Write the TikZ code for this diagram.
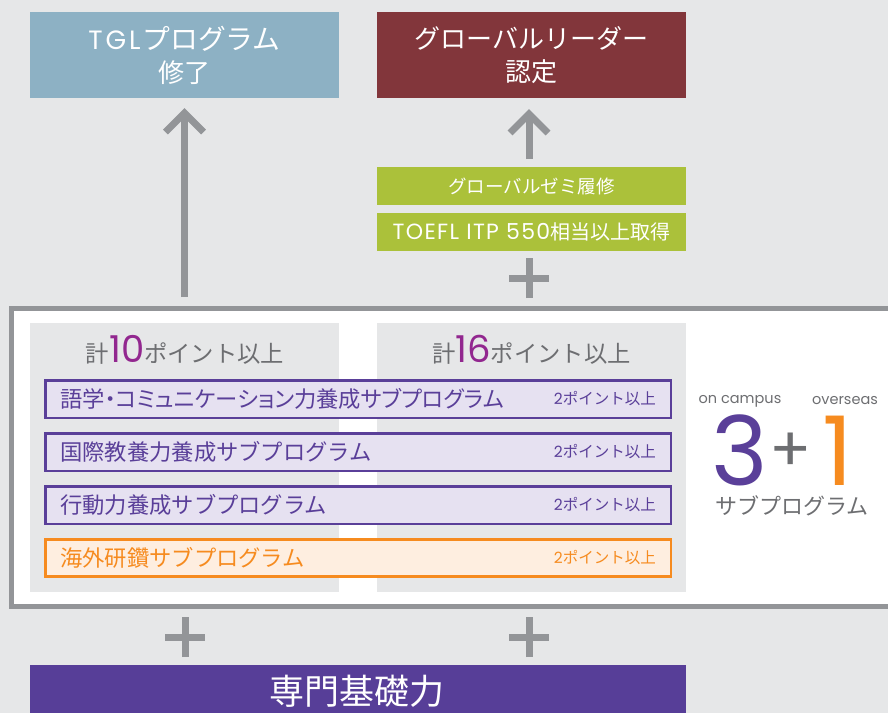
\documentclass[tikz,border=0pt]{standalone}
\usepackage{fontspec}
\setmainfont{Noto Sans CJK JP}
\newfontfamily\lat{Poppins}
\definecolor{bggray}{HTML}{E6E7E8}
\definecolor{tglblue}{HTML}{8DB1C4}
\definecolor{leadred}{HTML}{82363B}
\definecolor{lgreen}{HTML}{ABC13A}
\definecolor{framegray}{HTML}{939598}
\definecolor{txtgray}{HTML}{6D6E71}
\definecolor{magen}{HTML}{92278F}
\definecolor{purp}{HTML}{5A3F99}
\definecolor{purpfill}{HTML}{E6E1F1}
\definecolor{orng}{HTML}{F68B1F}
\definecolor{orngfill}{HTML}{FEEEE0}
\definecolor{basepurp}{HTML}{573E98}
\begin{document}
\begin{tikzpicture}[x=1pt,y=-1pt,
  topbox/.style={draw=none, inner sep=0pt, minimum width=309pt, minimum height=86pt, text=white, align=center,
    font=\fontsize{26}{33}\selectfont},
  greenbox/.style={fill=lgreen, draw=none, inner sep=0pt, minimum width=309pt, minimum height=38pt, text=white},
  column/.style={fill=bggray, draw=none, inner sep=0pt, minimum width=309pt, minimum height=269pt},
  subbox/.style={draw=purp, fill=purpfill, line width=2.5pt, inner sep=0pt, minimum width=625.5pt, minimum height=37.5pt},
  osbox/.style={draw=orng, fill=orngfill, line width=2.5pt, inner sep=0pt, minimum width=625.5pt, minimum height=37pt},
  subtext/.style={anchor=west, inner sep=0pt, font=\fontsize{22.3}{22.3}\selectfont},
  pttext/.style={anchor=east, inner sep=0pt, font=\fontsize{15.5}{15.5}\selectfont},
  header/.style={inner sep=0pt, text=txtgray, font=\fontsize{23.3}{23.3}\selectfont},
  bigdigit/.style={inner sep=0pt, anchor=base, text depth=0pt, text height=68pt, font=\lat\fontsize{96}{96}\selectfont},
  gline/.style={draw=framegray, line width=7pt},
  chev/.style={draw=framegray, line width=7pt, line join=miter},
]
\useasboundingbox (0,0) rectangle (888,713);
\fill[bggray] (0,0) rectangle (888,713);

% top boxes
\node[topbox, fill=tglblue] (tgl) at (184.5,55) {{\lat\fontsize{26.5}{33}\selectfont\addfontfeatures{LetterSpace=11}TGL}\kern2pt{\fontsize{27.8}{33}\selectfont プログラム}\\修了};
\node[topbox, fill=leadred] (leader) at (531.5,55) {グローバルリーダー\\認定};

% green requirement boxes
\node[greenbox, font=\fontsize{18.5}{18.5}\selectfont] (zemi) at (531.5,186) {グローバルゼミ履修};
\node[greenbox, font=\fontsize{20}{20}\selectfont] (toefl) at (531.5,232) {{\lat\fontsize{22}{22}\selectfont\addfontfeatures{LetterSpace=6}TOEFL ITP 550}相当以上取得};

% frame
\fill[white] (11,308.5) rectangle (888,606.5);
\draw[framegray, line width=5pt] (892,308.5) -- (11,308.5) -- (11,606.5) -- (892,606.5);

% columns
\node[column, anchor=north west] (colL) at (30,323) {};
\node[column, anchor=north west] (colR) at (377,323) {};
\node[header] (hL) at (185,350) {計{\lat\fontsize{37}{37}\selectfont\color{magen}10}ポイント以上};
\node[header] (hR) at (531.5,350) {計{\lat\fontsize{37}{37}\selectfont\color{magen}16}ポイント以上};

% sub-program boxes
\node[subbox] (s1) at (358,399) {};
\node[subbox] (s2) at (358,452) {};
\node[subbox] (s3) at (358,505) {};
\node[osbox] (s4) at (358,558) {};
\node[subtext, text=purp] at ([xshift=16pt]s1.west) {\addfontfeatures{RawFeature=+palt}語学・コミュニケーション力養成サブプログラム};
\node[subtext, text=purp] at ([xshift=16pt]s2.west) {国際教養力養成サブプログラム};
\node[subtext, text=purp] at ([xshift=16pt]s3.west) {行動力養成サブプログラム};
\node[subtext, text=orng] at ([xshift=16pt]s4.west) {海外研鑽サブプログラム};
\node[pttext, text=purp] at ([xshift=-16pt]s1.east) {{\lat 2}ポイント以上};
\node[pttext, text=purp] at ([xshift=-16pt]s2.east) {{\lat 2}ポイント以上};
\node[pttext, text=purp] at ([xshift=-16pt]s3.east) {{\lat 2}ポイント以上};
\node[pttext, text=orng] at ([xshift=-16pt]s4.east) {{\lat 2}ポイント以上};

% 3+1
\node[inner sep=0pt, text=txtgray, font=\lat\fontsize{14.5}{14.5}\selectfont] (oncamp) at (740,401) {on campus};
\node[inner sep=0pt, text=txtgray, font=\lat\fontsize{14.5}{14.5}\selectfont] (oversea) at (845,401) {overseas};
\node[bigdigit, text=purp] (three) at (740,485) {3};
\node[inner sep=0pt, text=txtgray, font=\lat\fontsize{62}{62}\selectfont] (plusT) at (791,452) {+};
\node[bigdigit, text=orng] (one) at (838,485) {1};
\node[inner sep=0pt, text=txtgray, font=\fontsize{22}{22}\selectfont] (subp) at (792,506) {サブプログラム};

% base box
\node[fill=basepurp, inner sep=0pt, minimum width=656pt, minimum height=48pt, anchor=north west] (base) at (30,665) {};
\node[inner sep=0pt, text=white, font=\fontsize{35}{35}\selectfont] (basetxt) at (357,691) {専門基礎力};

% arrows
\coordinate (aLb) at (184.5,297);
\coordinate (aLt) at (184.5,113);
\draw[gline] (aLb) -- (aLt);
\draw[chev] ([shift={(-19,19)}]aLt) -- (aLt) -- ([shift={(19,19)}]aLt);
\coordinate (aRb) at (529,159);
\coordinate (aRt) at (529,114);
\draw[gline] (aRb) -- (aRt);
\draw[chev] ([shift={(-19,19)}]aRt) -- (aRt) -- ([shift={(19,19)}]aRt);

% plus signs
\coordinate (pG) at (529,278);
\draw[gline] ([yshift=-20]pG) -- ([yshift=20]pG) ([xshift=-20]pG) -- ([xshift=20]pG);
\coordinate (pL) at (185,637);
\draw[gline] ([yshift=-20]pL) -- ([yshift=20]pL) ([xshift=-20]pL) -- ([xshift=20]pL);
\coordinate (pR) at (529,637);
\draw[gline] ([yshift=-20]pR) -- ([yshift=20]pR) ([xshift=-20]pR) -- ([xshift=20]pR);
\end{tikzpicture}
\end{document}
